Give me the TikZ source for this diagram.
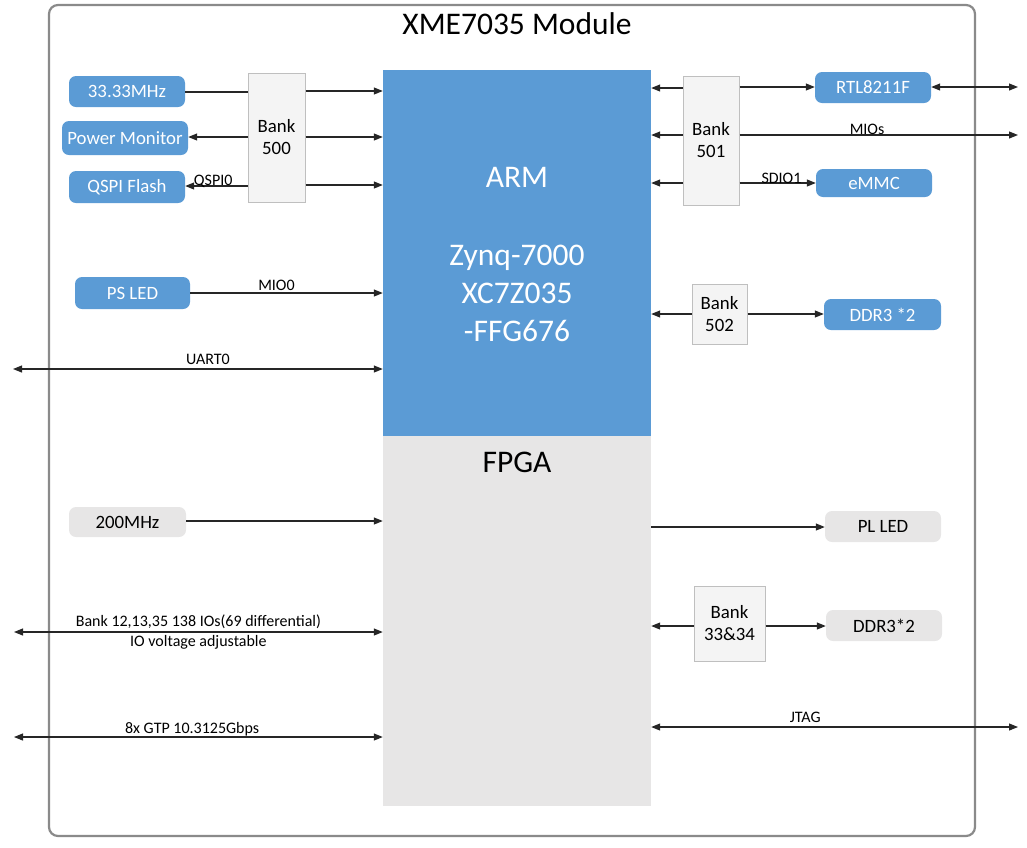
\documentclass[tikz,border=0pt]{standalone}
\usepackage{fontspec}
\setmainfont{Carlito}
\usetikzlibrary{arrows.meta}
\definecolor{myblue}{HTML}{5B9BD5}
\definecolor{mygray}{HTML}{E7E6E6}
\definecolor{bankfill}{HTML}{F4F4F4}
\definecolor{bankline}{HTML}{BFBFBF}
\definecolor{framecol}{HTML}{8A8A8A}
\newcommand{\bxfont}{\fontsize{18.8}{22}\selectfont}
\newcommand{\lblfont}{\fontsize{16}{19}\selectfont}
\newcommand{\bigfont}{\fontsize{31.5}{38}\selectfont}
\tikzset{
  bluebox/.style={rectangle, rounded corners=7pt, fill=myblue, text=white, font=\bxfont, inner sep=0pt},
  graybox/.style={rectangle, rounded corners=7pt, fill=mygray, text=black, font=\bxfont, inner sep=0pt},
  bankbox/.style={rectangle, fill=bankfill, draw=bankline, line width=1pt, font=\bxfont, align=center, inner sep=0pt},
  conn/.style={draw=black!85, line width=1.1pt},
  arr/.style={conn, -{Triangle[length=9pt,width=7pt]}},
  darr/.style={conn, {Triangle[length=9pt,width=7pt]}-{Triangle[length=9pt,width=7pt]}},
  lbl/.style={font=\lblfont, anchor=base, inner sep=0pt},
}
\begin{document}
\begin{tikzpicture}[x=1pt,y=-1pt]
\useasboundingbox (0,0) rectangle (1027,847);
% module frame
\node[draw=framecol, line width=2.2pt, rounded corners=9pt, minimum width=926pt, minimum height=831pt, inner sep=0pt] (module) at (512,420.5) {};
\node[font=\bigfont, inner sep=0pt] (title) at (517,23.5) {XME7035 Module};
% chip
\node[fill=myblue, minimum width=268pt, minimum height=366pt, inner sep=0pt] (arm) at (517,253) {};
\node[fill=mygray, minimum width=268pt, minimum height=370pt, inner sep=0pt] (fpga) at (517,621) {};
\node[font=\bigfont, text=white, inner sep=0pt] (armtxt) at (517,177) {ARM};
\node[font=\bigfont, text=white, align=center, inner sep=0pt] (zynq) at (517,293) {Zynq-7000\\XC7Z035\\-FFG676};
\node[font=\bigfont, inner sep=0pt] (fpgatxt) at (517,462) {FPGA};
% banks
\node[bankbox, minimum width=57pt, minimum height=129pt] (b500) at (276.5,137.5) {Bank\\500};
\node[bankbox, minimum width=56pt, minimum height=129pt] (b501) at (711,140.5) {Bank\\501};
\node[bankbox, minimum width=55pt, minimum height=60pt] (b502) at (719.5,314) {Bank\\502};
\node[bankbox, minimum width=71pt, minimum height=75pt] (b3334) at (729.5,623.5) {Bank\\33\&34};
% left boxes
\node[bluebox, minimum width=116pt, minimum height=31pt] (clk333) at (127,91.5) {33.33MHz};
\node[bluebox, minimum width=126pt, minimum height=34pt] (pmon) at (125,138) {Power Monitor};
\node[bluebox, minimum width=116pt, minimum height=32pt] (qspi) at (127,187) {QSPI Flash};
\node[bluebox, minimum width=115pt, minimum height=32pt] (psled) at (132.5,293) {PS LED};
\node[graybox, minimum width=117pt, minimum height=30pt] (clk200) at (127.5,522) {200MHz};
% right boxes
\node[bluebox, minimum width=116pt, minimum height=31pt] (rtl) at (873,87.5) {RTL8211F};
\node[bluebox, minimum width=116pt, minimum height=28pt] (emmc) at (874,183) {eMMC};
\node[bluebox, minimum width=117pt, minimum height=31pt] (ddra) at (882.5,314.5) {DDR3 *2};
\node[graybox, minimum width=116pt, minimum height=31pt] (plled) at (883,526.5) {PL LED};
\node[graybox, minimum width=116pt, minimum height=31pt] (ddrb) at (884,625.5) {DDR3*2};
% external free ends
\coordinate (extL1) at (13,369);
\coordinate (extL2) at (14,632);
\coordinate (extL3) at (14,737);
\coordinate (extR1) at (1018,87);
\coordinate (extR2) at (1018,135);
\coordinate (extR3) at (1018,727);
% left connectors
\draw[conn] (clk333.east |- 0,92) -- (b500.west |- 0,92);
\draw[arr] (b500.east |- 0,91) -- (arm.west |- 0,91);
\draw[arr] (b500.west |- 0,137) -- (pmon.east |- 0,137);
\draw[arr] (b500.east |- 0,137) -- (arm.west |- 0,137);
\draw[arr] (b500.west |- 0,186) -- node[lbl, pos=0.55, yshift=1pt]{QSPI0} (qspi.east |- 0,186);
\draw[arr] (b500.east |- 0,185) -- (arm.west |- 0,185);
\draw[arr] (psled.east |- 0,293) -- node[lbl, pos=0.448, yshift=2.5pt]{MIO0} (arm.west |- 0,293);
\draw[darr] (extL1) -- node[lbl, pos=0.527, yshift=4.5pt]{UART0} (arm.west |- extL1);
\draw[arr] (clk200.east |- 0,521) -- (fpga.west |- 0,521);
\draw[darr] (extL2) -- node[lbl, pos=0.5, yshift=6pt]{Bank 12,13,35 138 IOs(69 differential)}
  node[lbl, pos=0.5, yshift=-14.5pt]{IO voltage adjustable} (fpga.west |- extL2);
\draw[darr] (extL3) -- node[lbl, pos=0.483, yshift=3.5pt]{8x GTP 10.3125Gbps} (fpga.west |- extL3);
% right connectors
\draw[arr] (b501.west |- 0,88) -- (arm.east |- 0,88);
\draw[arr] (b501.west |- 0,135) -- (arm.east |- 0,135);
\draw[arr] (b501.west |- 0,183) -- (arm.east |- 0,183);
\draw[arr] (b501.east |- 0,87) -- (rtl.west |- 0,87);
\draw[darr] (rtl.east |- extR1) -- (extR1);
\draw[arr] (b501.east |- extR2) -- node[lbl, pos=0.458, yshift=0.5pt]{MIOs} (extR2);
\draw[arr] (b501.east |- 0,183) -- node[lbl, pos=0.55, yshift=0pt]{SDIO1} (emmc.west |- 0,183);
\draw[arr] (b502.west |- 0,314) -- (arm.east |- 0,314);
\draw[arr] (b502.east |- 0,314) -- (ddra.west |- 0,314);
\draw[arr] (fpga.east |- 0,527) -- (plled.west |- 0,527);
\draw[arr] (b3334.west |- 0,626) -- (fpga.east |- 0,626);
\draw[arr] (b3334.east |- 0,626) -- (ddrb.west |- 0,626);
\draw[darr] (fpga.east |- extR3) -- node[lbl, pos=0.42, yshift=4.5pt]{JTAG} (extR3);
\end{tikzpicture}
\end{document}
